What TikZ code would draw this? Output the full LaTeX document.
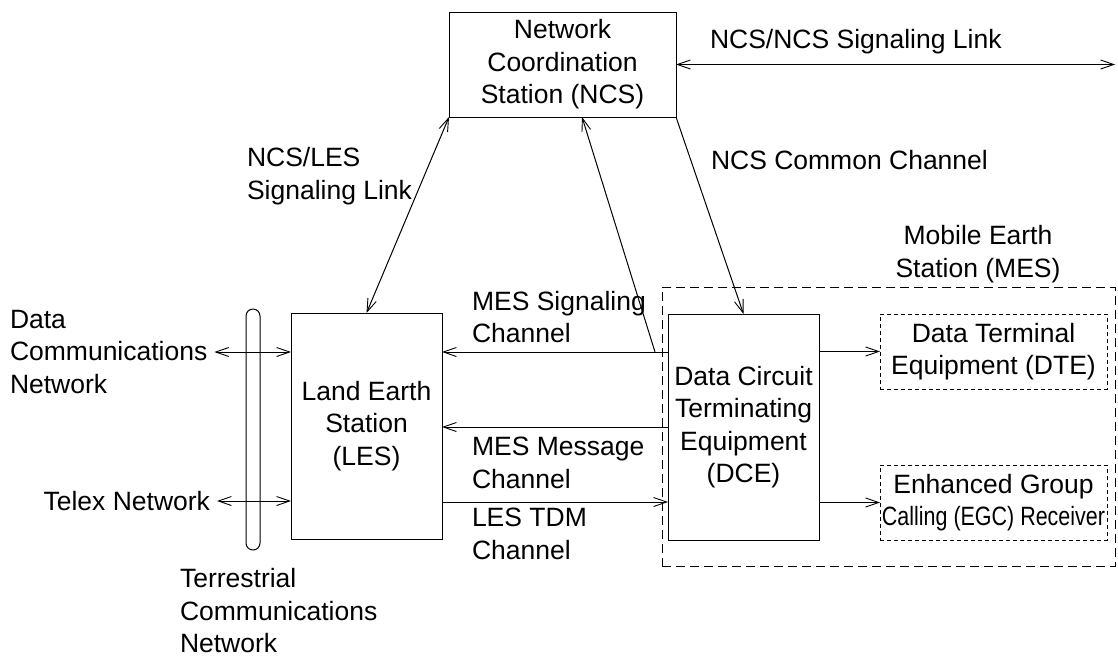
\documentclass[tikz,border=0pt]{standalone}
\usepackage{fontspec}
\usepackage{graphicx}
\setmainfont{Liberation Sans}
\usetikzlibrary{arrows.meta}
\begin{document}
\begin{tikzpicture}[x=1pt,y=-1pt,
  every node/.style={inner sep=0pt,outer sep=0pt,font=\fontsize{26.5}{32.5}\selectfont},
  box/.style={draw,line width=1pt,align=center},
  mesbox/.style={draw,line width=1pt,dash pattern=on 9pt off 5pt},
  subbox/.style={draw,line width=1pt,dash pattern=on 4pt off 3pt,align=center},
  lbl/.style={align=left,anchor=west},
  link/.style={line width=1pt},
  >={Straight Barb[length=13pt,width=9pt,line width=0.9pt]}]
\useasboundingbox (0,0) rectangle (1118,657);
% boxes
\node[box,minimum width=227pt,minimum height=105pt] (ncs) at (562.5,64.5) {Network\\Coordination\\Station (NCS)};
\node[box,minimum width=151pt,minimum height=226pt] (les) at (366.5,426) {Land Earth\\Station\\(LES)};
\node[mesbox,minimum width=453pt,minimum height=279pt] (mes) at (888.5,426.5) {};
\node[box,minimum width=151pt,minimum height=226pt,fill=white] (dce) at (743.5,427) {Data Circuit\\Terminating\\Equipment\\(DCE)};
\node[subbox,minimum width=227pt,minimum height=75pt] (dte) at (993.5,351.5) {Data Terminal\\Equipment (DTE)};
\node[subbox,minimum width=227pt,minimum height=75pt] (egc) at (993.5,502.5) {Enhanced Group\\\scalebox{0.81}[1]{Calling (EGC) Receiver}};
\node[draw,line width=1pt,rounded corners=7pt,minimum width=14pt,minimum height=241pt] (tcn) at (253,429.5) {};
% text labels
\node[lbl] (dcn) at (10,352) {Data\\Communications\\Network};
\node[anchor=east] (telex) at (210,501) {Telex Network};
\node[lbl] (tcnl) at (180,611) {Terrestrial\\Communications\\Network};
\node[lbl] (lnn) at (710,42) {NCS/NCS Signaling Link};
\node[lbl] (lnl) at (247,176) {NCS/LES\\Signaling Link};
\node[lbl] (lcc) at (711,160) {NCS Common Channel};
\node[align=center] (lmes) at (978,254) {Mobile Earth\\Station (MES)};
\node[lbl] (lsig) at (472,317) {MES Signaling\\Channel};
\node[lbl] (lmsg) at (472,463) {MES Message\\Channel};
\node[lbl] (ltdm) at (472,534) {LES TDM\\Channel};
% coordinates
\coordinate (ncsfar) at (1115,65);
\coordinate (sigj) at (655,352);
\coordinate (sigtop) at (582,117);
\coordinate (msgy) at (0,427);
\coordinate (tdmy) at (0,502);
% connectors
\draw[link,<->] (ncs.east) -- (ncs.east -| ncsfar);
\draw[link,<->] (ncs.south west) -- (les.north);
\draw[link,->] (ncs.south east) -- (dce.north);
\draw[link,->] (sigj) -- (sigtop);
\draw[link,->] (dce.west |- sigj) -- (les.east |- sigj);
\draw[link,->] (dce.west |- msgy) -- (les.east |- msgy);
\draw[link,->] (les.east |- tdmy) -- (dce.west |- tdmy);
\draw[link,->] (dce.east |- dte.west) -- (dte.west);
\draw[link,->] (dce.east |- egc.west) -- (egc.west);
\draw[link,<->] ([xshift=7pt]dcn.east |- sigj) -- (les.west |- sigj);
\draw[link,<->] ([xshift=7pt]telex.east) -- (les.west |- telex.east);
\end{tikzpicture}
\end{document}
